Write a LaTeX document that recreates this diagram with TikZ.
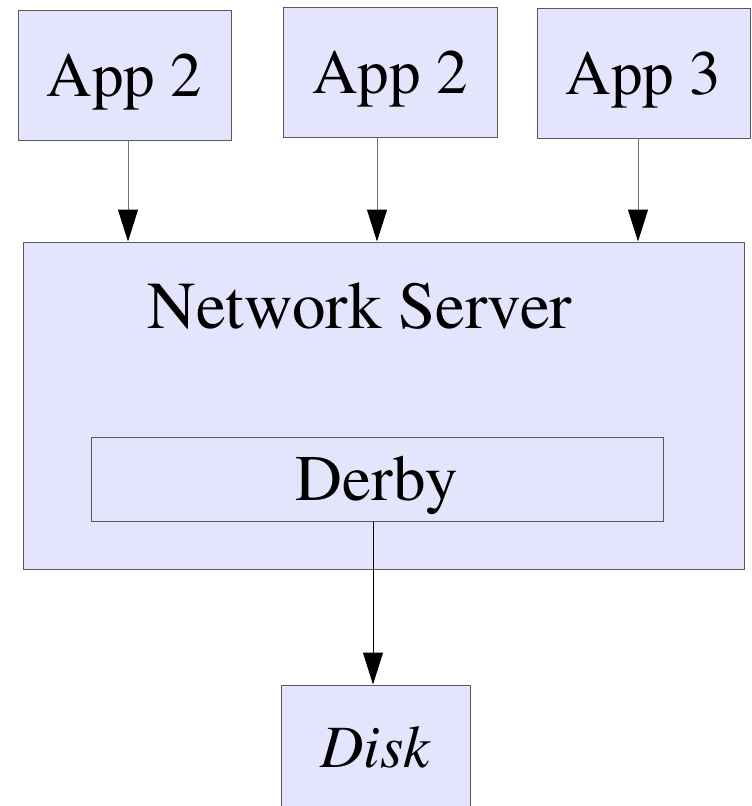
\documentclass[tikz,border=0pt]{standalone}
\usepackage[T1]{fontenc}
\usepackage{mathptmx}
\usetikzlibrary{arrows.meta}
\definecolor{boxfill}{RGB}{228,228,252}
\begin{document}
\begin{tikzpicture}[x=1pt, y=-1pt,
  box/.style={draw=black!65, fill=boxfill, line width=1pt, inner sep=0pt,
    font=\fontsize{63}{70}\selectfont, text height=42pt, text depth=0pt},
  arr/.style={-{Triangle[length=32pt,width=20pt,color=black]}, line width=1pt}]
\useasboundingbox (0,0) rectangle (752,806);

\node[box, minimum width=213pt, minimum height=130pt] (app1) at (124.5,75) {App 2};
\node[box, minimum width=214pt, minimum height=130pt] (app2) at (390,72) {App 2};
\node[box, minimum width=213pt, minimum height=130pt] (app3) at (643.5,73) {App 3};

\node[box, minimum width=721pt, minimum height=327pt] (server) at (383.5,405.5) {};
\node[anchor=base, font=\fontsize{67}{74}\selectfont] (servertext) at (360,328) {Network Server};
\node[box, minimum width=572pt, minimum height=84pt, font=\fontsize{65}{72}\selectfont] (derby) at (377,479) {Derby};

\node[box, minimum width=189pt, minimum height=130pt, text height=34pt, font=\fontsize{60}{66}\selectfont\itshape] (disk) at (375.5,750) {Disk};

\foreach \a/\dx in {app1/3.5, app2/-13, app3/-5.5}
  \draw[arr, black!55] ([xshift=\dx pt]\a.south) -- ([xshift=\dx pt]\a.south |- server.north);
\draw[arr] ([xshift=-4pt]derby.south) -- ([xshift=-4pt]derby.south |- disk.north);
\end{tikzpicture}
\end{document}
